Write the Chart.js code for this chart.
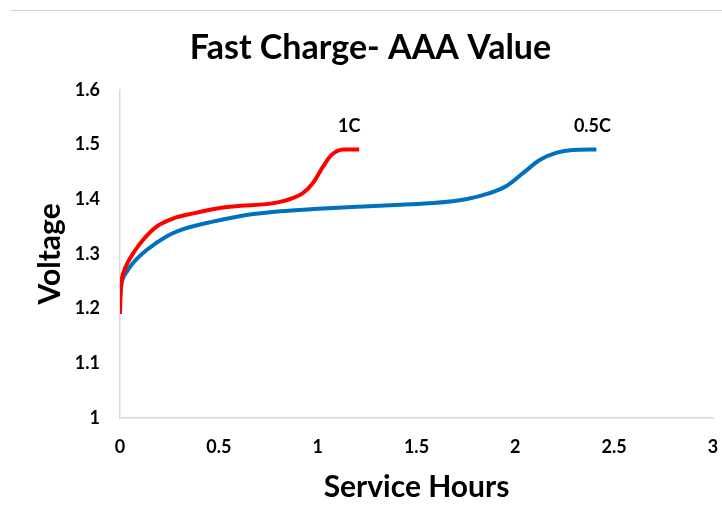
<!DOCTYPE html>
<html>
<head>
<meta charset="utf-8">
<script src="https://cdn.jsdelivr.net/npm/chart.js@4.4.1/dist/chart.umd.min.js"></script>
<style>
    body { margin: 0; background: #fff; }
</style>
</head>
<body>
<canvas id="chargeChart" width="722" height="516"></canvas>
<script>
// 1C series (hours, volts)
const hours1C = [0, 0.002, 0.008, 0.02, 0.04, 0.07, 0.115, 0.185, 0.27, 0.37, 0.49, 0.61, 0.74, 0.84, 0.925, 0.975, 1.028, 1.07, 1.13, 1.21];
const volts1C = [1.19, 1.22, 1.25, 1.268, 1.285, 1.303, 1.325, 1.35, 1.365, 1.374, 1.383, 1.388, 1.391, 1.398, 1.411, 1.429, 1.46, 1.481, 1.491, 1.491];

// 0.5C series
const hoursHalfC = [0, 0.005, 0.015, 0.035, 0.065, 0.135, 0.235, 0.335, 0.47, 0.64, 0.81, 0.98, 1.2, 1.42, 1.585, 1.75, 1.87, 1.955, 2.04, 2.125, 2.21, 2.29, 2.41];
const voltsHalfC = [1.215, 1.24, 1.255, 1.268, 1.283, 1.307, 1.332, 1.347, 1.359, 1.371, 1.378, 1.382, 1.386, 1.39, 1.393, 1.40, 1.411, 1.424, 1.448, 1.472, 1.485, 1.49, 1.491];

const xTicks = [0, 0.5, 1, 1.5, 2, 2.5, 3];
const yTicks = [1, 1.1, 1.2, 1.3, 1.4, 1.5, 1.6];

// series labels placed at data coordinates
const seriesNames = ["1C", "0.5C"];
const labelX = [1.16, 2.39];
const labelY = [1.534, 1.534];

const FONT = "Lato, 'Open Sans', sans-serif";

function toPoints(xs, ys) {
    return xs.map((x, i) => ({ x: x, y: ys[i] }));
}

function fmt(v) {
    return String(Math.round(v * 10) / 10);
}

const topRule = {
    id: "topRule",
    beforeDraw(chart) {
        const ctx = chart.ctx;
        ctx.save();
        ctx.strokeStyle = "#d0d0d0";
        ctx.lineWidth = 1;
        ctx.beginPath();
        ctx.moveTo(11, 10.5);
        ctx.lineTo(722, 10.5);
        ctx.stroke();
        ctx.restore();
    }
};

const seriesLabels = {
    id: "seriesLabels",
    afterDatasetsDraw(chart) {
        const ctx = chart.ctx;
        const xs = chart.scales.x;
        const ys = chart.scales.y;
        ctx.save();
        ctx.fillStyle = "#000";
        ctx.font = "bold 18px " + FONT;
        ctx.textAlign = "center";
        ctx.textBaseline = "middle";
        seriesNames.forEach((name, i) => {
            ctx.fillText(name, xs.getPixelForValue(labelX[i]), ys.getPixelForValue(labelY[i]));
        });
        ctx.restore();
    }
};

const axisLine = { display: true, color: "#d9d9d9", width: 1.5 };

// tick marks kept invisible, their length only spaces the labels off the axis
function spacer(len) {
    return { display: true, drawOnChartArea: false, drawTicks: true, tickLength: len, color: "rgba(0,0,0,0)" };
}

new Chart(document.getElementById("chargeChart"), {
    type: "line",
    data: {
        datasets: [
            {
                label: "1C",
                data: toPoints(hours1C, volts1C),
                borderColor: "#ff0000",
                borderWidth: 4,
                pointRadius: 0,
                cubicInterpolationMode: "monotone",
                fill: false
            },
            {
                label: "0.5C",
                data: toPoints(hoursHalfC, voltsHalfC),
                borderColor: "#0070c0",
                borderWidth: 4,
                pointRadius: 0,
                cubicInterpolationMode: "monotone",
                fill: false
            }
        ]
    },
    options: {
        responsive: false,
        animation: false,
        layout: { padding: { left: 28, right: 9, top: 0, bottom: 0 } },
        plugins: {
            legend: { display: false },
            tooltip: { enabled: false },
            title: {
                display: true,
                text: "Fast Charge- AAA Value",
                color: "#000",
                font: { family: FONT, size: 34, weight: "bold" },
                padding: { top: 28, bottom: 21 }
            }
        },
        scales: {
            x: {
                type: "linear",
                min: 0,
                max: 3,
                afterBuildTicks: (scale) => { scale.ticks = xTicks.map(v => ({ value: v })); },
                afterFit: (scale) => { scale.height = 98; },
                grid: spacer(18),
                border: axisLine,
                ticks: {
                    color: "#000",
                    padding: 0,
                    callback: fmt,
                    font: { family: FONT, size: 18, weight: "bold" }
                },
                title: {
                    display: true,
                    text: "Service Hours",
                    color: "#000",
                    font: { family: FONT, size: 30, weight: "bold" },
                    padding: { top: 0, bottom: 11 }
                }
            },
            y: {
                min: 1,
                max: 1.6,
                afterBuildTicks: (scale) => { scale.ticks = yTicks.map(v => ({ value: v })); },
                afterFit: (scale) => { scale.width = 92; },
                grid: spacer(20),
                border: axisLine,
                ticks: {
                    color: "#000",
                    padding: 0,
                    callback: fmt,
                    font: { family: FONT, size: 18, weight: "bold" }
                },
                title: {
                    display: true,
                    text: "Voltage",
                    color: "#000",
                    font: { family: FONT, size: 30, weight: "bold" },
                    padding: { top: 4, bottom: 0 }
                }
            }
        }
    },
    plugins: [topRule, seriesLabels]
});
</script>
</body>
</html>
